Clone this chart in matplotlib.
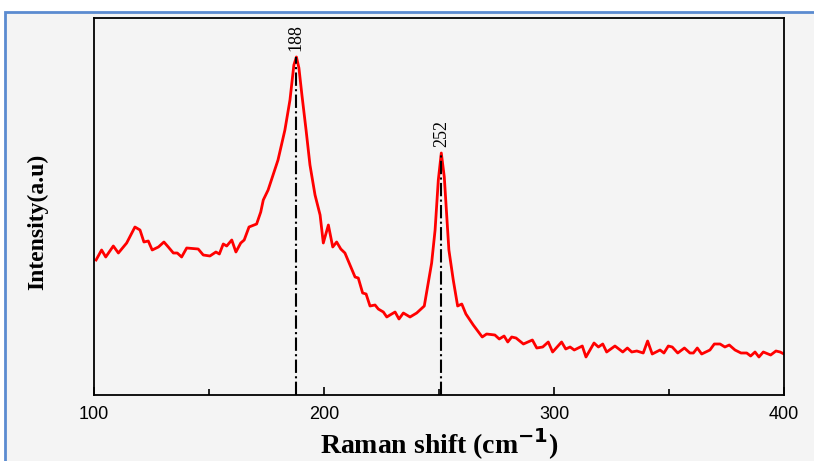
import numpy as np
import matplotlib.pyplot as plt
from matplotlib.patches import Rectangle

# Raman spectrum (a.u.)
shift = [100.9, 103.3, 105.1, 108.4, 110.6, 114.2, 117.8, 120.0, 121.7, 123.6,
         125.3, 128.0, 130.4, 132.3, 134.5, 136.2, 138.1, 140.3, 145.3, 147.5,
         150.4, 153.0, 154.5, 156.2, 157.7, 159.9, 161.7, 163.8, 165.3, 167.4,
         170.7, 172.5, 173.6, 175.7, 177.4, 180.0, 183.0, 185.2, 186.9, 188.0,
         189.1, 190.4, 192.2, 193.9, 196.1, 198.3, 199.7, 201.9, 203.8, 205.5,
         207.3, 209.1, 211.3, 213.5, 214.9, 216.8, 218.3, 220.0, 222.2, 223.6,
         225.8, 227.3, 228.7, 230.9, 232.6, 234.5, 237.4, 240.3, 243.6, 245.3,
         246.8, 248.3, 249.7, 251.0, 252.3, 254.3, 256.2, 258.1, 259.9, 261.7,
         264.9, 268.8, 270.7, 274.3, 276.2, 278.3, 279.9, 281.6, 283.5, 286.7,
         290.6, 292.5, 295.1, 297.5, 299.4, 303.3, 305.1, 307.0, 308.8, 312.3,
         313.9, 317.4, 319.3, 321.2, 322.9, 326.5, 329.9, 331.9, 333.8, 336.0,
         338.8, 340.7, 342.7, 346.1, 347.8, 349.7, 351.4, 353.8, 356.7, 359.1,
         360.6, 362.3, 364.2, 367.8, 369.7, 372.2, 374.3, 376.2, 378.7, 381.3,
         383.8, 385.5, 387.4, 389.1, 391.0, 394.2, 396.5, 398.3, 400.0]
intensity = [135, 145, 138, 149, 142, 152, 168, 165, 153, 154,
             145, 148, 153, 148, 142, 142, 138, 147, 146, 140,
             139, 143, 141, 151, 149, 155, 143, 152, 155, 168,
             171, 183, 195, 205, 217, 235, 265, 295, 330, 338,
             327, 300, 265, 230, 200, 180, 152, 170, 148, 153,
             146, 142, 130, 118, 117, 102, 101, 89, 90, 86,
             83, 78, 80, 83, 76, 82, 78, 82, 89, 112,
             132, 165, 215, 242, 218, 145, 115, 89, 91, 81,
             70, 58, 61, 60, 56, 59, 53, 58, 57, 51,
             55, 47, 48, 53, 43, 53, 46, 48, 45, 49,
             38, 52, 48, 51, 43, 49, 43, 47, 43, 44,
             42, 54, 41, 45, 42, 49, 48, 42, 47, 42,
             42, 47, 41, 45, 51, 51, 48, 50, 45, 42,
             42, 39, 43, 38, 43, 40, 44, 43, 41]

peak_pos = [188.0, 251.0]
peak_height = [338, 242]
peak_labels = ['188', '252']

fig = plt.figure(figsize=(8.14, 4.61), dpi=100)
fig.patch.set_facecolor('white')
# light grey panel with blue frame, like the pasted figure
frame = Rectangle((5 / 814, -0.05), 1.0, 0.974 + 0.05,
                  transform=fig.transFigure, facecolor='#f4f4f4',
                  edgecolor='#5b8bd0', linewidth=2, zorder=-5)
fig.add_artist(frame)

ax = fig.add_axes([94 / 814, 66 / 461, 690 / 814, 377 / 461])
ax.set_facecolor('#f4f4f4')

ax.plot(shift, intensity, color='red', lw=2)
for xp, yp, lab in zip(peak_pos, peak_height, peak_labels):
    ax.plot([xp, xp], [0, yp], color='black', lw=1.5, ls='-.')
    ax.annotate(lab, (xp, yp), xytext=(0, 4), textcoords='offset points',
                rotation=90, ha='center', va='bottom',
                family='Liberation Serif', fontsize=13)

ax.set_xlim(100, 400)
ax.set_ylim(0, 377)
ax.set_xticks([100, 200, 300, 400])
ax.set_xticks([150, 250, 350], minor=True)
ax.set_yticks([])
ax.tick_params(axis='x', which='both', direction='in', top=False)
ax.tick_params(axis='x', which='major', length=6, width=1.2, pad=8,
               labelsize=13)
ax.tick_params(axis='x', which='minor', length=4, width=1.2)
for lbl in ax.get_xticklabels():
    lbl.set_family('Liberation Sans')
for sp in ax.spines.values():
    sp.set_linewidth(1.3)

ax.set_xlabel(r'Raman shift (cm$^{\mathbf{-1}}$)', family='Liberation Serif',
              fontweight='bold', fontsize=20, labelpad=2)
ax.set_ylabel('Intensity(a.u)', family='Liberation Serif', fontweight='bold',
              fontsize=17)
ax.yaxis.set_label_coords(-0.066, 0.46)

fig.savefig('out.png', dpi=100)
